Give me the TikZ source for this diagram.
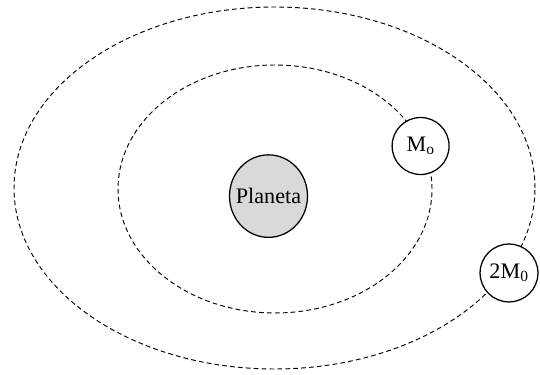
\documentclass[tikz,border=0pt]{standalone}
\usepackage{fontspec}
\setmainfont{Liberation Serif}
\usetikzlibrary{shapes.geometric}
\tikzset{
    orbit/.style={line width=0.9pt,dash pattern=on 4.5pt off 3pt},
    corpo/.style={circle,draw,line width=1.2pt,fill=white,inner sep=0pt,
        minimum size=1.9cm,font=\fontsize{21}{24}\selectfont}
}
\begin{document}
\begin{tikzpicture}
        \useasboundingbox (0,0) rectangle (18,12.467);
        % orbitas
        \draw[orbit] (9.15,6.2) ellipse (8.683 and 6.033);
        \draw[orbit] (9.167,6.167) ellipse (5.233 and 4.133);

        \node[corpo,ellipse,fill=black!15,minimum width=2.6cm,minimum height=2.75cm] (planeta) at (8.95,5.93) {\makebox[0pt]{Planeta}};
        \node[corpo] (lua) at (14.02,7.6) {M\textsubscript{o}};
        \node[corpo,minimum size=1.93cm] (lua2) at (16.967,3.367) {2M\textsubscript{0}};
    \end{tikzpicture}
\end{document}
